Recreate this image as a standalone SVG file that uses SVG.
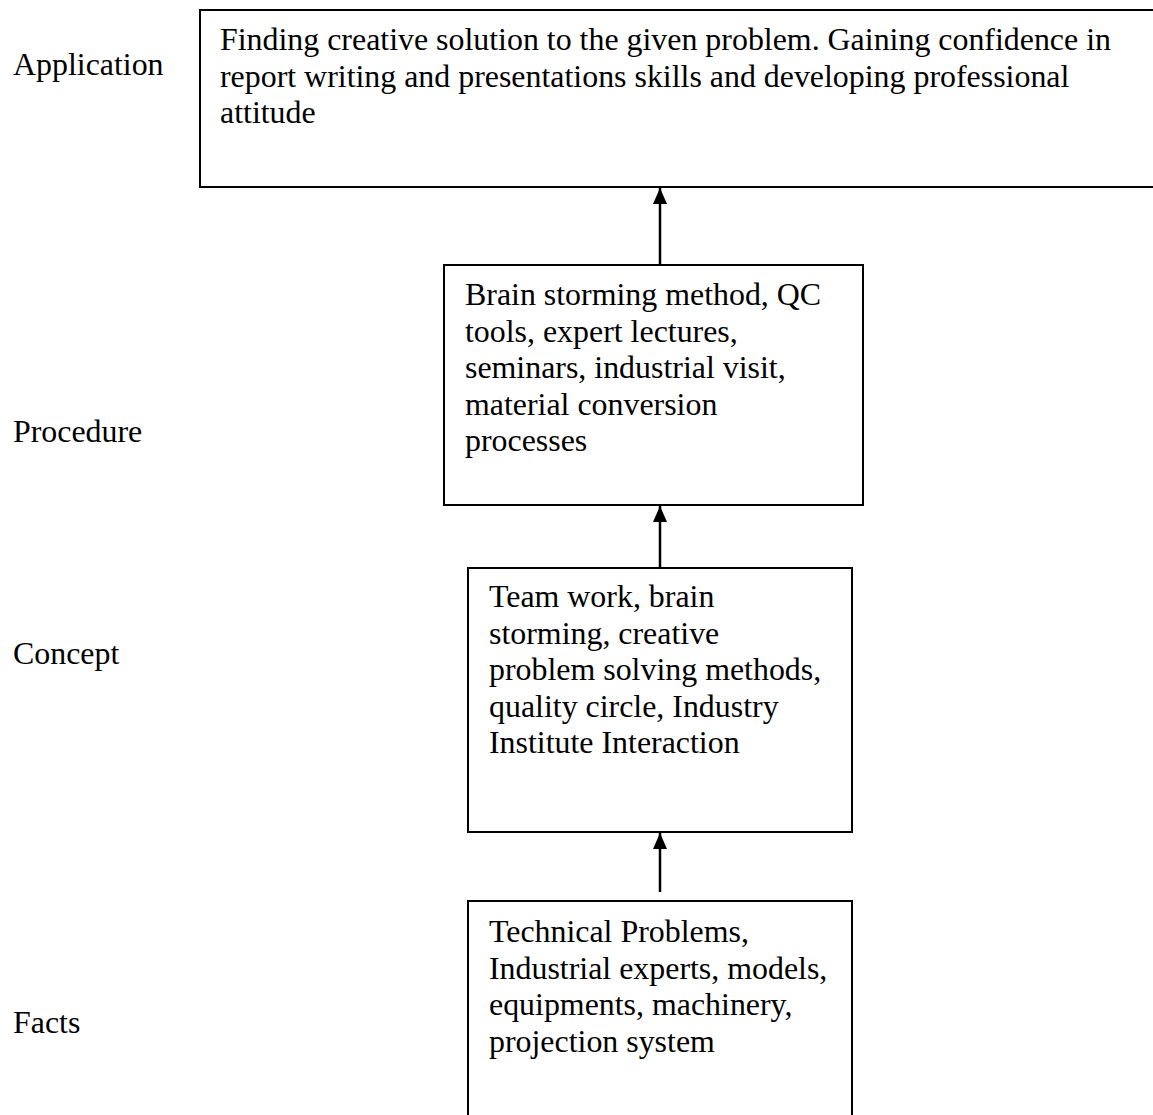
<svg xmlns="http://www.w3.org/2000/svg" width="1153" height="1115" viewBox="0 0 1153 1115">
<style>
text{font-family:"Liberation Serif","Times New Roman",serif;font-size:31.9px;fill:#000}
.box{fill:#fff;stroke:#000;stroke-width:2}
.conn{stroke:#000;stroke-width:2.5;fill:none}
</style>
<defs>
<marker id="ah" markerUnits="userSpaceOnUse" markerWidth="16" markerHeight="14" refX="16" refY="7" orient="auto" viewBox="0 0 16 14">
<path d="M0,0 L16,7 L0,14 z" fill="#000"/>
</marker>
</defs>
<rect width="1153" height="1115" fill="#fff"/>
<g id="labels">
<text x="13" y="75">Application</text>
<text x="13" y="442">Procedure</text>
<text x="13" y="664">Concept</text>
<text x="13" y="1033">Facts</text>
</g>
<g id="node-application">
<rect class="box" x="200" y="10" width="960" height="177"/>
<text x="220" y="50">Finding creative solution to the given problem. Gaining confidence in</text>
<text x="220" y="86.5">report writing and presentations skills and developing professional</text>
<text x="220" y="123">attitude</text>
</g>
<g id="node-procedure">
<rect class="box" x="444" y="265" width="419" height="240"/>
<text x="465" y="305">Brain storming method, QC</text>
<text x="465" y="341.5">tools, expert lectures,</text>
<text x="465" y="378">seminars, industrial visit,</text>
<text x="465" y="414.5">material conversion</text>
<text x="465" y="451">processes</text>
</g>
<g id="node-concept">
<rect class="box" x="468" y="568" width="384" height="264"/>
<text x="489" y="607">Team work, brain</text>
<text x="489" y="643.5">storming, creative</text>
<text x="489" y="680">problem solving methods,</text>
<text x="489" y="716.5">quality circle, Industry</text>
<text x="489" y="753">Institute Interaction</text>
</g>
<g id="node-facts">
<rect class="box" x="468" y="901" width="384" height="240"/>
<text x="489" y="942">Technical Problems,</text>
<text x="489" y="978.5">Industrial experts, models,</text>
<text x="489" y="1015">equipments, machinery,</text>
<text x="489" y="1051.5">projection system</text>
</g>
<g id="connectors">
<line class="conn" x1="660" y1="265" x2="660" y2="188" marker-end="url(#ah)"/>
<line class="conn" x1="660" y1="567" x2="660" y2="506" marker-end="url(#ah)"/>
<line class="conn" x1="660" y1="892" x2="660" y2="833" marker-end="url(#ah)"/>
</g>
</svg>
